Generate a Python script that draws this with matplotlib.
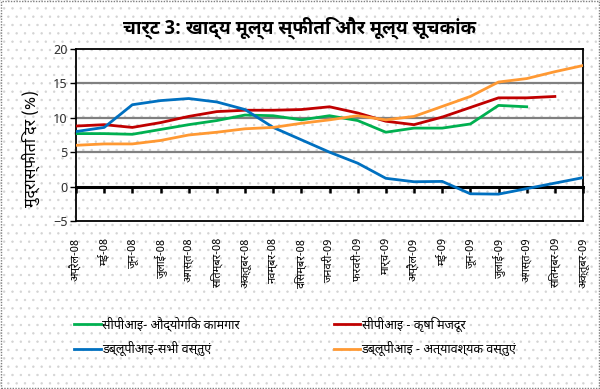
import matplotlib
matplotlib.use("Agg")
import matplotlib.pyplot as plt
from matplotlib.patches import Rectangle

months = ["अप्रैल-08", "मई-08", "जून-08", "जुलाई-08", "अगस्त-08", "सितम्बर-08",
          "अक्तूबर-08", "नवम्बर-08", "दिसम्बर-08", "जनवरी-09", "फरवरी-09", "मार्च-09",
          "अप्रैल-09", "मई-09", "जून-09", "जुलाई-09", "अगस्त-09", "सितम्बर-09", "अक्तूबर-09"]

cpi_iw = [7.7, 7.7, 7.6, 8.3, 9.0, 9.6, 10.4, 10.3, 9.7, 10.3, 9.6, 7.9, 8.5, 8.5, 9.1, 11.8, 11.6]
cpi_al = [8.8, 9.0, 8.6, 9.3, 10.2, 10.9, 11.1, 11.1, 11.2, 11.6, 10.7, 9.5, 9.0, 10.1, 11.5, 12.9, 12.9, 13.1]
wpi_all = [8.0, 8.6, 11.9, 12.5, 12.8, 12.3, 11.2, 8.6, 6.8, 5.0, 3.4, 1.2, 0.7, 0.75, -1.05, -1.1, -0.3, 0.5, 1.3]
wpi_ess = [6.0, 6.2, 6.2, 6.7, 7.5, 7.9, 8.4, 8.6, 9.2, 9.7, 10.3, 9.7, 10.2, 11.65, 13.1, 15.2, 15.7, 16.7, 17.6]

labels = ["सीपीआइ- औद्योगिक कामगार", "सीपीआइ - कृषि मजदूर",
          "डब्लूपीआइ-सभी वस्तुएं", "डब्लूपीआइ - अत्यावश्यक वस्तुएं"]
colors = ["#00b050", "#c00000", "#0070c0", "#ff9933"]
title = "चार्ट 3: खाद्य मूल्य स्फीति और मूल्य सूचकांक"
ylabel = "मुद्रास्फीति दर (%)"
yticks = [-5, 0, 5, 10, 15, 20]

plt.rcParams["font.family"] = ["Noto Sans Devanagari", "DejaVu Sans"]

fig = plt.figure(figsize=(6, 3.89), dpi=100)
fig.patch.set_facecolor("white")

# dotted chart-area texture and border
plt.rcParams["hatch.linewidth"] = 0.5
bg = Rectangle((0, 0), 1, 1, transform=fig.transFigure, facecolor="white",
               edgecolor="#d4d4d4", hatch="..", lw=0, zorder=-10)
fig.patches.append(bg)
border = Rectangle((0.002, 0.003), 0.996, 0.994, transform=fig.transFigure, fill=False,
                   edgecolor="#7f7f7f", lw=1, linestyle=(0, (1, 1)), zorder=10)
fig.patches.append(border)

ax = fig.add_axes([0.1267, 0.432, 0.845, 0.442])
ax.patch.set_alpha(0)

x = list(range(len(months)))
series = [cpi_iw, cpi_al, wpi_all, wpi_ess]
lines = []
for s, c, lab in zip(series, colors, labels):
    ln, = ax.plot(x[:len(s)], s, color=c, lw=2, label=lab, zorder=3)
    lines.append(ln)

ax.set_xlim(0, len(months) - 1)
ax.set_ylim(-5, 20)
ax.set_yticks(yticks)
for v in [5, 10, 15]:
    ax.axhline(v, color="#808080", lw=1.6, zorder=1)
for s in ax.spines.values():
    s.set_color("black")
    s.set_linewidth(1.3)
ax.tick_params(axis="y", length=4, width=1, labelsize=9.5, labelcolor="#333333",
               direction="out", pad=2)
ax.set_xticks(x, months, rotation=90, fontsize=8)
ax.tick_params(axis="x", length=0, pad=12)

# zero axis line with category tick marks
sec = ax.secondary_xaxis(5 / 25)
sec.set_xticks(x)
sec.set_xticklabels([])
sec.tick_params(axis="x", direction="out", length=4, width=1.8, color="black")
sec.spines["bottom"].set_linewidth(2.2)
sec.spines["bottom"].set_color("black")

ax.set_ylabel(ylabel, fontsize=11.5, labelpad=6)
ax.yaxis.set_label_coords(-0.072, 0.42)

fig.text(0.5, 0.928, title, ha="center", va="center", fontsize=13.5, fontweight="bold",
         family=["Noto Sans Devanagari UI", "Noto Sans Devanagari", "DejaVu Sans"])

leg1 = fig.legend([lines[0], lines[2]], [labels[0], labels[2]], loc="center left",
                  bbox_to_anchor=(0.105, 0.135), frameon=False, fontsize=9,
                  handlelength=2.1, handletextpad=0.1, labelspacing=0.75)
leg2 = fig.legend([lines[1], lines[3]], [labels[1], labels[3]], loc="center left",
                  bbox_to_anchor=(0.538, 0.135), frameon=False, fontsize=9,
                  handlelength=2.1, handletextpad=0.1, labelspacing=0.75)

fig.savefig("out.png", dpi=100)
